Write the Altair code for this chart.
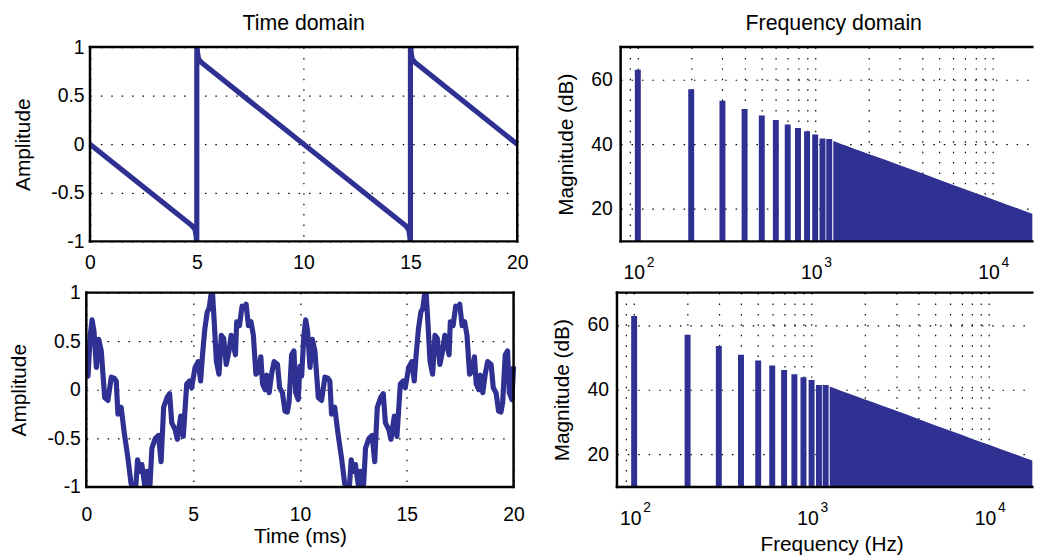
import altair as alt
import pandas as pd

# ---------------- data ----------------
# top-left: band-limited sawtooth (time in ms, amplitude)
saw_t = [0.0, 4.78, 4.92, 4.97, 5.0, 5.0, 5.03, 5.08, 5.22,
         14.78, 14.92, 14.97, 15.0, 15.0, 15.03, 15.08, 15.22, 20.0]
saw_v = [0.0, -0.84, -0.88, -0.95, -1.05, 1.05, 0.95, 0.88, 0.84,
         -0.84, -0.88, -0.95, -1.05, 1.05, 0.95, 0.88, 0.84, 0.0]

# bottom-left: one 10 ms period of the random-phase waveform (repeats twice)
wave_t = [0.00, 0.08, 0.18, 0.27, 0.36, 0.47, 0.58, 0.70, 0.86, 1.01,
          1.17, 1.30, 1.40, 1.48, 1.63, 1.78, 1.94, 2.09, 2.20, 2.30,
          2.40, 2.50, 2.60, 2.73, 2.84, 2.97, 3.07, 3.23, 3.38, 3.50,
          3.62, 3.78, 3.90, 4.00, 4.16, 4.26, 4.42, 4.54, 4.70, 4.83,
          4.93, 5.09, 5.24, 5.35, 5.44, 5.55, 5.66, 5.75, 5.83, 5.90,
          5.98, 6.09, 6.21, 6.32, 6.43, 6.55, 6.68, 6.78, 6.89, 6.98,
          7.04, 7.17, 7.29, 7.40, 7.48, 7.59, 7.71, 7.82, 7.94, 8.06,
          8.17, 8.25, 8.37, 8.45, 8.56, 8.68, 8.79, 8.95, 9.05, 9.18,
          9.30, 9.41, 9.49, 9.61, 9.72, 9.80, 9.92]
wave_v = [0.24, 0.14, 0.55, 0.72, 0.60, 0.23, 0.52, 0.40, -0.08, -0.11,
          0.13, 0.12, 0.09, -0.25, -0.18, -0.45, -0.69, -0.96, -1.05, -1.05,
          -0.72, -0.84, -0.77, -0.98, -0.84, -1.02, -0.60, -0.50, -0.47, -0.74,
          -0.18, -0.08, -0.04, -0.34, -0.41, -0.51, -0.27, -0.48, 0.06, 0.09,
          0.02, 0.23, 0.29, 0.09, 0.36, 0.63, 0.80, 0.84, 0.97, 1.02,
          0.73, 0.29, 0.16, 0.56, 0.53, 0.26, 0.40, 0.56, 0.46, 0.36,
          0.70, 0.66, 0.86, 0.85, 0.88, 0.66, 0.70, 0.56, 0.16, 0.19,
          0.34, 0.06, 0.00, 0.15, -0.03, 0.17, 0.29, 0.26, 0.02, -0.03,
          -0.22, -0.23, -0.13, 0.36, 0.40, -0.03, -0.10]
wave_period = 10.0

# spectra: separate harmonics, then the dense part as an envelope
harm_f = [100, 200, 300, 400, 500, 600, 700, 800, 900, 1000, 1100, 1200]
harm_db_top = [63.0, 57.0, 53.4, 50.9, 48.9, 47.5, 46.1, 45.0, 44.0, 43.0, 41.8, 41.6]
harm_db_bot = [62.8, 57.0, 53.5, 50.8, 49.0, 47.5, 46.1, 44.8, 43.9, 43.0, 41.5, 41.5]
dense_f = [1265, 1300, 1400, 1500, 1600, 1800, 2000, 2200, 2500, 2800, 3000, 3500,
           4000, 5000, 6000, 7000, 8000, 9000, 10000, 12000, 14000, 16000, 18000, 20000]
dense_db = [41.0, 40.8, 40.1, 39.5, 38.9, 37.9, 37.0, 36.2, 35.1, 34.1, 33.5, 32.2,
            31.0, 29.0, 27.4, 26.1, 24.9, 23.9, 23.0, 21.4, 20.1, 18.9, 17.9, 17.0]

# axes / titles
time_ticks = [0, 5, 10, 15, 20]
amp_ticks = [-1, -0.5, 0, 0.5, 1]
db_ticks = [20, 40, 60]
freq_grid = [90, 100, 200, 300, 400, 500, 600, 700, 800, 900,
             1000, 2000, 3000, 4000, 5000, 6000, 7000, 8000, 9000, 10000]
freq_labels = [100, 1000, 10000]
freq_exp = ["2", "3", "4"]
panel_titles = ["Time domain", "Frequency domain"]

# ---------------- style / layout ----------------
BLUE = "#2e3192"
FONT = "Liberation Sans"
TICK_FS = 19.5
AXTITLE_FS = 21
HEAD_FS = 21.5
H = 196
CELL_L, CELL_R = 435, 419          # grid cell widths (left / right column)
SHIFT = 3.7                        # top row sits a little to the right
W_L, W_TR, W_BR = 431, 415.3, 419  # plot widths
DOM_TR = [80, 16760]
DOM_BR = [80, 17540]

saw_df = pd.DataFrame({"t": saw_t, "v": saw_v, "i": range(len(saw_t))})
full_t = wave_t + [t + wave_period for t in wave_t] + [2 * wave_period]
full_v = wave_v + wave_v + [wave_v[0]]
wave_df = pd.DataFrame({"t": full_t, "v": full_v, "i": range(len(full_t))})

ONE = pd.DataFrame({"k": [0]})


def frame(x0, w, h, sides):
    base = alt.Chart(ONE).mark_rule(color="black", strokeWidth=2.5, strokeCap="square")
    out = []
    if "top" in sides:
        out.append(base.encode(x=alt.value(x0), x2=alt.value(x0 + w), y=alt.value(0)))
    if "bottom" in sides:
        out.append(base.encode(x=alt.value(x0), x2=alt.value(x0 + w), y=alt.value(h)))
    if "left" in sides:
        out.append(base.encode(x=alt.value(x0), y=alt.value(0), y2=alt.value(h)))
    if "right" in sides:
        out.append(base.encode(x=alt.value(x0 + w), y=alt.value(0), y2=alt.value(h)))
    return out


def marker(x0, x1, y0, y1):
    return alt.Chart(ONE).mark_rule(opacity=0, strokeWidth=1).encode(
        x=alt.value(x0), x2=alt.value(x1), y=alt.value(y0), y2=alt.value(y1))


def head(text, xc):
    return alt.Chart(ONE).mark_text(font=FONT, fontSize=HEAD_FS, color="black",
                                    align="center", baseline="alphabetic").encode(
        x=alt.value(xc), y=alt.value(-17), text=alt.value(text))


amp_label = "datum.value < 0 ? '-' + format(-datum.value, '') : format(datum.value, '')"


def time_panel(df, x0, w, xtitle, lpad, extra):
    x = alt.X("t:Q", scale=alt.Scale(domain=[0, 20], range=[x0, x0 + w], nice=False, zero=False),
              axis=alt.Axis(values=time_ticks, title=xtitle, labelFlush=False,
                            labelOverlap=False, ticks=False, domain=False, grid=True,
                            labelPadding=lpad, minExtent=30, maxExtent=30,
                            titlePadding=26, titleBaseline="alphabetic",
                            titleX=x0 + w / 2))
    y = alt.Y("v:Q", scale=alt.Scale(domain=[-1, 1], nice=False, zero=False),
              axis=alt.Axis(values=amp_ticks, title="Amplitude", labelExpr=amp_label,
                            labelOverlap=False, ticks=False, domain=False, grid=True,
                            labelPadding=6 - x0, minExtent=40 - x0, maxExtent=40 - x0,
                            titlePadding=21.5, titleBaseline="alphabetic"))
    line = alt.Chart(df).mark_line(color=BLUE, strokeWidth=5.2, clip=True,
                                   strokeJoin="round").encode(
        x=x, y=y, order=alt.Order("i:Q"))
    return alt.layer(line, *frame(x0, w, H, ["top", "bottom", "left", "right"]), *extra
                     ).properties(width=CELL_L, height=H)


def freq_panel(harm_db, dom, x0, w, xtitle, extra):
    xs = alt.Scale(type="log", domain=dom, range=[x0, x0 + w], nice=False, zero=False)
    ys = alt.Scale(domain=[10, 70], nice=False, zero=False)
    x = alt.X("f:Q", scale=xs,
              axis=alt.Axis(values=freq_grid, title=xtitle,
                            labelExpr="datum.value == 100 || datum.value == 1000 || datum.value == 10000 ? '10' : ''",
                            labelFlush=False, labelOverlap=False, ticks=False, domain=False,
                            grid=True, labelPadding=22.6, labelOffset=-4,
                            minExtent=40, maxExtent=40, titlePadding=24,
                            titleBaseline="alphabetic", titleX=x0 + 215 + 1.5))
    y = alt.Y("db:Q", scale=ys,
              axis=alt.Axis(values=db_ticks, title="Magnitude (dB)", labelOverlap=False,
                            ticks=False, domain=False, grid=True, labelPadding=8.5 - x0,
                            minExtent=40 - x0, maxExtent=40 - x0, titlePadding=9,
                            titleBaseline="alphabetic"))
    hdf = pd.DataFrame({"f": harm_f, "db": harm_db})
    ddf = pd.DataFrame({"f": dense_f, "db": dense_db})
    edf = pd.DataFrame({"f": freq_labels, "e": freq_exp})
    bars = alt.Chart(hdf).mark_rule(color=BLUE, strokeWidth=6, clip=True).encode(
        x=x, y=y, y2=alt.datum(10))
    area = alt.Chart(ddf).mark_area(color=BLUE, clip=True, opacity=1).encode(
        x=alt.X("f:Q", scale=xs), y=alt.Y("db:Q", scale=ys), y2=alt.datum(10))
    sup = alt.Chart(edf).mark_text(font=FONT, fontSize=14, color="black",
                                   align="center", baseline="alphabetic", dx=13).encode(
        x=alt.X("f:Q", scale=xs), y=alt.value(H + 25.7), text="e:N")
    return alt.layer(bars, area, sup, *frame(x0, w, H, ["top", "bottom", "left"]), *extra
                     ).properties(width=CELL_R, height=H)


TL = time_panel(saw_df, SHIFT, W_L, None, 12.6,
                [head(panel_titles[0], SHIFT + W_L / 2), marker(SHIFT, SHIFT + 1, -36.5, -36.5)])
TR = freq_panel(harm_db_top, DOM_TR, SHIFT, W_TR, None,
                [head(panel_titles[1], SHIFT + 215)])
BL = time_panel(wave_df, 0, W_L, "Time (ms)", 19, [marker(-77.8, -77.8, 0, 1)])
BR = freq_panel(harm_db_bot, DOM_BR, 0, W_BR, "Frequency (Hz)", [])

chart = alt.concat(TL, TR, BL, BR, columns=2,
                   spacing={"row": 51.7, "column": 100.3}, bounds="flush").properties(
    padding=0
).configure_view(stroke="transparent").configure_axis(
    labelFont=FONT, titleFont=FONT, labelFontSize=TICK_FS, titleFontSize=AXTITLE_FS,
    labelColor="black", titleColor="black", titleFontWeight="normal",
    gridColor="black", gridDash=[1.5, 9], gridWidth=1.2, gridOpacity=1
)

chart.save("out.html", embed_options={"renderer": "svg", "actions": False})
